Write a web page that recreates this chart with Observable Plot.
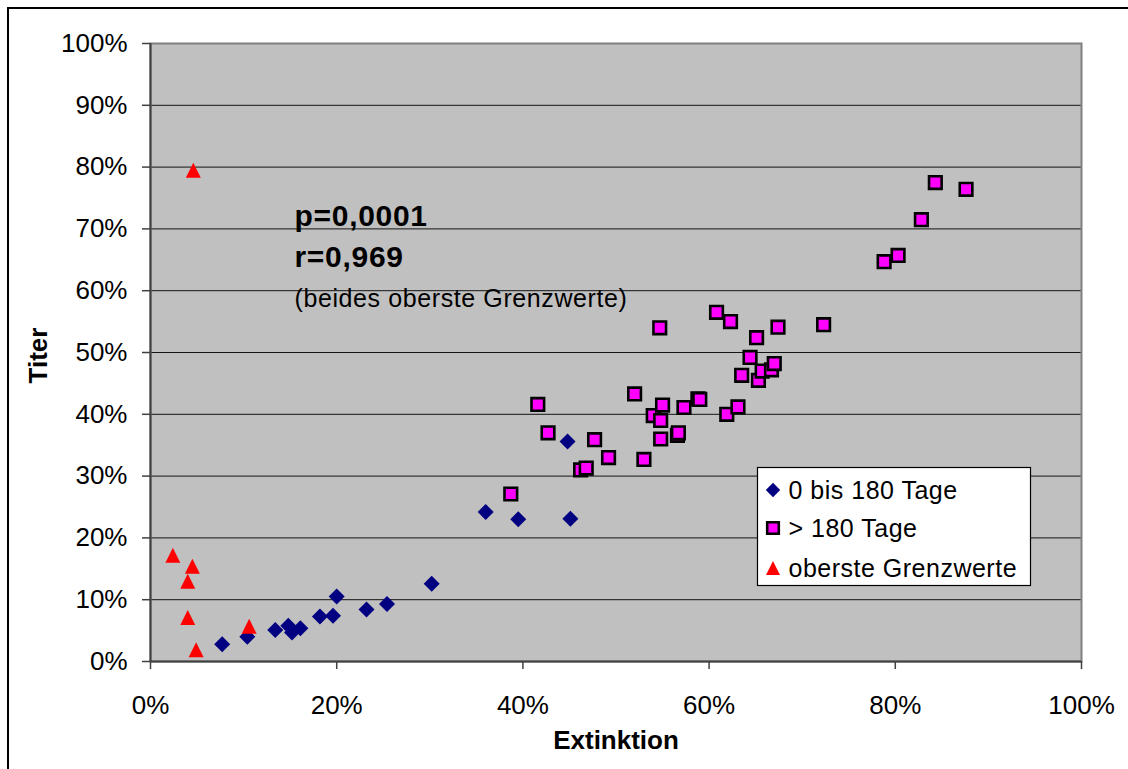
<!DOCTYPE html>
<html>
<head>
<meta charset="utf-8">
<script src="https://cdn.jsdelivr.net/npm/d3@7"></script>
<script src="https://cdn.jsdelivr.net/npm/@observablehq/plot@0.6"></script>
<style>
  html, body { margin: 0; padding: 0; background: #fff; }
  #chart { width: 1128px; height: 769px; overflow: hidden; }
</style>
</head>
<body>
<div id="chart"></div>
<script>
// Extinktion (x, %) und Titer (y, %) je Gruppe
const fruehX = [7.7, 10.4, 13.4, 14.8, 15.2, 16.1, 18.2, 19.6, 20.0, 23.2, 25.4, 30.2, 36.0, 39.5, 44.8, 45.1];
const fruehY = [2.8, 4.0, 5.1, 5.8, 4.7, 5.4, 7.3, 7.4, 10.5, 8.4, 9.3, 12.6, 24.2, 23.0, 35.6, 23.1];

const spaetX = [38.7, 41.6, 42.7, 46.2, 46.8, 47.7, 49.2, 52.0, 53.0, 54.0, 54.7, 54.8, 54.8, 55.0, 56.6, 56.7,
                57.3, 58.8, 59.0, 60.8, 61.9, 62.3, 63.1, 63.5, 64.4, 65.1, 65.3, 65.7, 66.7, 67.0, 67.4, 72.3,
                78.8, 80.3, 82.8, 84.3, 87.6];
const spaetY = [27.1, 41.6, 37.0, 31.0, 31.3, 35.9, 33.0, 43.3, 32.7, 39.8, 54.0, 39.0, 36.0, 41.5, 36.6, 37.0,
                41.1, 42.5, 42.4, 56.5, 40.0, 55.0, 41.2, 46.3, 49.2, 52.4, 45.5, 47.0, 47.2, 48.2, 54.1, 54.5,
                64.7, 65.7, 71.5, 77.5, 76.4];

const grenzX = [2.4, 4.5, 4.0, 4.0, 4.9, 10.6, 4.6];
const grenzY = [17.2, 15.4, 13.0, 7.1, 1.9, 5.7, 79.5];

const serien = ["0 bis 180 Tage", "> 180 Tage", "oberste Grenzwerte"];
const xTicks = [0, 20, 40, 60, 80, 100];
const yTicks = [0, 10, 20, 30, 40, 50, 60, 70, 80, 90, 100];
const gridTicks = [10, 20, 30, 40, 50, 60, 70, 80, 90];
const statText = ["p=0,0001", "r=0,969", "(beides oberste Grenzwerte)"];

const pct = d => d + "%";
const points = (xs, ys) => xs.map((x, i) => ({x, y: ys[i]}));

// Marker shapes sized so that r is the half-width of the bounding box
const half = size => Math.sqrt(size / Math.PI);
const diamond = {draw(ctx, size) { const r = half(size);
  ctx.moveTo(0, -r); ctx.lineTo(r, 0); ctx.lineTo(0, r); ctx.lineTo(-r, 0); ctx.closePath(); }};
const square = {draw(ctx, size) { const r = half(size);
  ctx.moveTo(-r, -r); ctx.lineTo(r, -r); ctx.lineTo(r, r); ctx.lineTo(-r, r); ctx.closePath(); }};
const triangle = {draw(ctx, size) { const r = half(size);
  ctx.moveTo(0, -r); ctx.lineTo(r, r); ctx.lineTo(-r, r); ctx.closePath(); }};

const styles = [
  {symbol: diamond, r: 8, fill: "#000080", stroke: "none", strokeWidth: 0},
  {symbol: square, r: 6.3, fill: "#FF00FF", stroke: "#000", strokeWidth: 2.6},
  {symbol: triangle, r: 7.5, fill: "#FF0000", stroke: "none", strokeWidth: 0}
];

const font = "'Liberation Sans', Arial, Helvetica, sans-serif";

const svg = Plot.plot({
  width: 1128,
  height: 769,
  marginLeft: 150,
  marginRight: 47,
  marginTop: 43,
  marginBottom: 108,
  style: {fontFamily: font, color: "#000", background: "#fff"},
  x: {domain: [0, 100]},
  y: {domain: [0, 100]},
  marks: [
    Plot.frame({fill: "#C0C0C0"}),
    Plot.gridY(gridTicks, {stroke: "#000", strokeOpacity: 0.9, strokeWidth: 1}),
    Plot.frame({stroke: "#808080", strokeWidth: 2}),
    Plot.axisY(yTicks, {tickSize: 8, tickPadding: 15, tickFormat: pct, fontSize: 26,
      stroke: "#404040", strokeWidth: 1.5, label: null}),
    Plot.axisX(xTicks, {tickSize: 8, tickPadding: 26, tickFormat: pct, fontSize: 26,
      stroke: "#404040", strokeWidth: 1.5, label: null}),
    Plot.ruleX([0], {stroke: "#404040", strokeWidth: 2}),
    Plot.ruleY([0], {stroke: "#404040", strokeWidth: 2}),
    Plot.dot(points(fruehX, fruehY), {x: "x", y: "y", ...styles[0]}),
    Plot.dot(points(spaetX, spaetY), {x: "x", y: "y", ...styles[1]}),
    Plot.dot(points(grenzX, grenzY), {x: "x", y: "y", ...styles[2]}),
    Plot.text(["Extinktion"], {text: d => d, frameAnchor: "bottom", textAnchor: "middle", dy: 87,
      fontSize: 26, fontWeight: "bold", fill: "#000"}),
    Plot.text(["Titer"], {text: d => d, frameAnchor: "left", textAnchor: "middle", dx: -112, dy: 3,
      rotate: -90, fontSize: 26, fontWeight: "bold", fill: "#000"}),
    Plot.text([statText[0]], {text: d => d, frameAnchor: "top-left", textAnchor: "start",
      dx: 144, dy: 161, fontSize: 30, fontWeight: "bold", fill: "#000", letterSpacing: 0.7}),
    Plot.text([statText[1]], {text: d => d, frameAnchor: "top-left", textAnchor: "start",
      dx: 144, dy: 202, fontSize: 30, fontWeight: "bold", fill: "#000", letterSpacing: 0.7}),
    Plot.text([statText[2]], {text: d => d, frameAnchor: "top-left", textAnchor: "start",
      dx: 144, dy: 246, fontSize: 25, fill: "#000", letterSpacing: 0.6})
  ]
});

const root = d3.select(svg);

// Stretch the statistics lines slightly, as in the original layout
root.selectAll("text").filter(function() { return statText.includes(this.textContent); })
  .style("letter-spacing", function() { return this.textContent === statText[2] ? "0.6px" : "0.7px"; });

// Legend box inside the plotting area
const lg = root.append("g").attr("transform", "translate(757.5,467.5)");
lg.append("rect").attr("width", 273).attr("height", 118)
  .attr("fill", "#fff").attr("stroke", "#000").attr("stroke-width", 1.2);
const rowY = [22.5, 60.5, 100.5];
serien.forEach((name, i) => {
  const s = styles[i];
  const r = i === 0 ? 7.2 : i === 1 ? 5.8 : 7;
  lg.append("path")
    .attr("transform", `translate(15.5,${rowY[i]})`)
    .attr("d", d3.symbol(s.symbol, Math.PI * r * r)())
    .attr("fill", s.fill).attr("stroke", s.stroke).attr("stroke-width", s.strokeWidth);
  lg.append("text")
    .attr("x", 31).attr("y", rowY[i]).attr("dy", "0.35em")
    .attr("text-anchor", "start")
    .attr("font-size", 25).attr("font-family", font).attr("fill", "#000")
    .style("letter-spacing", "0.5px")
    .text(name);
});

// Outer chart border (left and top edges visible)
root.append("rect").attr("x", 8).attr("y", 8).attr("width", 1300).attr("height", 900)
  .attr("fill", "none").attr("stroke", "#000").attr("stroke-width", 2);

document.getElementById("chart").appendChild(svg);
</script>
</body>
</html>
